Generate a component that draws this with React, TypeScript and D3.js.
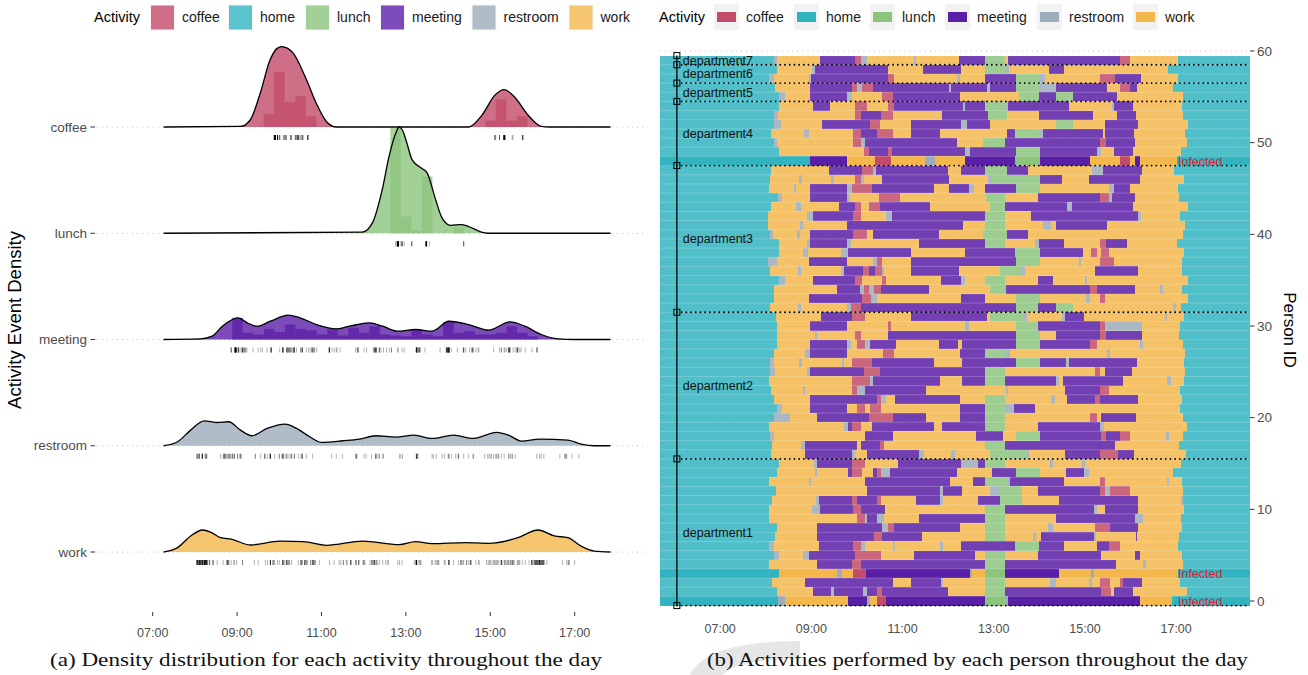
import React from 'react';
import * as d3 from 'd3';

// ---- data ----
const activities = ['coffee', 'home', 'lunch', 'meeting', 'restroom', 'work'];
const activityColors = ['#c24b69', '#31b4c0', '#8cc47c', '#5a1fa7', '#9cacba', '#f3b74c'];
const activityCodes: Record<string, string> = { c: 'coffee', h: 'home', l: 'lunch', m: 'meeting', r: 'restroom', w: 'work' };
const ridgeActivities = ['coffee', 'lunch', 'meeting', 'restroom', 'work'];

const timeTicks = [7, 9, 11, 13, 15, 17];
const timeTickLabels = ['07:00', '09:00', '11:00', '13:00', '15:00', '17:00'];
const personTicks = [0, 10, 20, 30, 40, 50, 60];

const dayStart = 5.68;
const dayEnd = 18.62;
const densityStart = 7.26;
const densityEnd = 17.85;

// scaled density: [hour, height]
const coffeeDensity = [[9.08, 0.005], [9.31, 0.066], [9.55, 0.32], [9.78, 0.63], [9.95, 0.74], [10.06, 0.757], [10.2, 0.74], [10.33, 0.695], [10.65, 0.44], [10.88, 0.22], [11.12, 0.05], [11.35, 0], [14.49, 0], [14.8, 0.11], [15.11, 0.3], [15.33, 0.352], [15.58, 0.28], [15.9, 0.11], [16.21, 0.006], [16.4, 0]];
const lunchDensity = [[11.97, 0.01], [12.21, 0.1], [12.44, 0.41], [12.6, 0.72], [12.77, 0.95], [12.84, 1.0], [12.92, 0.97], [13.0, 0.88], [13.15, 0.69], [13.38, 0.61], [13.5, 0.57], [13.71, 0.31], [13.85, 0.15], [14.06, 0.075], [14.32, 0.082], [14.6, 0.044], [14.79, 0.01], [14.95, 0]];
const meetingDensity = [[8.14, 0.006], [8.41, 0.031], [8.65, 0.125], [9.02, 0.204], [9.24, 0.157], [9.47, 0.125], [9.79, 0.172], [10.21, 0.229], [10.49, 0.204], [10.88, 0.141], [11.35, 0.1], [11.66, 0.125], [12.14, 0.157], [12.45, 0.125], [12.8, 0.078], [13.23, 0.094], [13.62, 0.078], [14.02, 0.172], [14.49, 0.141], [14.96, 0.088], [15.47, 0.166], [15.82, 0.125], [16.21, 0.047], [16.6, 0.006], [16.99, 0]];
const restroomDensity = [[7.59, 0.038], [7.9, 0.147], [8.22, 0.235], [8.53, 0.219], [8.8, 0.226], [9.08, 0.147], [9.35, 0.094], [9.71, 0.163], [10.14, 0.204], [10.41, 0.163], [10.72, 0.085], [11.0, 0.031], [11.51, 0.047], [11.9, 0.063], [12.29, 0.094], [12.76, 0.082], [13.19, 0.1], [13.62, 0.069], [14.13, 0.1], [14.6, 0.069], [15.15, 0.125], [15.43, 0.1], [15.74, 0.044], [16.17, 0.063], [16.84, 0.053], [17.15, 0.016], [17.46, 0]];
const workDensity = [[7.59, 0.041], [7.9, 0.151], [8.18, 0.207], [8.37, 0.188], [8.61, 0.135], [8.88, 0.119], [9.31, 0.066], [10.02, 0.103], [10.57, 0.097], [11.12, 0.063], [11.98, 0.103], [12.84, 0.069], [13.23, 0.097], [13.62, 0.078], [14.41, 0.088], [14.96, 0.082], [15.66, 0.135], [16.13, 0.207], [16.52, 0.151], [16.84, 0.135], [17.15, 0.056], [17.46, 0.009]];

// 15-minute histogram bins: [bin start hour, height]
const binWidth = 0.25;
const coffeeHist = [[9.63, 0.12], [9.88, 0.52], [10.13, 0.235], [10.38, 0.29], [10.63, 0.1], [14.88, 0.06], [15.13, 0.26], [15.38, 0.06], [15.63, 0.1]];
const lunchHist = [[12.63, 0.99], [12.88, 0.157], [13.13, 0.025], [13.38, 0.533], [14.13, 0.056]];
const meetingHist = [[8.885, 0.204], [9.135, 0.063], [9.385, 0.047], [9.635, 0.1], [9.885, 0.07], [10.135, 0.141], [10.385, 0.1], [10.635, 0.088], [10.885, 0.047], [11.135, 0.094], [11.385, 0.038], [11.635, 0.11], [11.885, 0.063], [12.135, 0.125], [12.385, 0.047], [12.635, 0.038], [12.885, 0.031], [13.135, 0.094], [13.385, 0.047], [13.635, 0.031], [13.885, 0.163], [14.135, 0.063], [14.385, 0.078], [14.635, 0.047], [14.885, 0.047], [15.135, 0.063], [15.385, 0.125], [15.635, 0.063], [15.885, 0.031]];

// one schedule per person (id 0..59): activity code + end hour
const personSchedules = [
  'h8.26 r8.43 w9.81 m10.23 r10.29 w10.44 c10.64 m12.81 l13.25 r13.32 m16.20 w16.90',
  'h8.24 w9.03 m9.43 r9.50 m10.14 r10.23 m10.45 c10.55 m11.99 w12.81 l13.25 m15.35 c15.57 w15.64 m16.06 w17.23',
  'h8.13 w8.86 m10.80 w11.18 m11.84 r11.89 w12.81 l13.25 w14.24 r14.37 w15.08 r15.15 w15.33 c15.54 w15.77 c15.83 m16.25 w17.09',
  'h8.28 w9.56 r9.67 w9.91 c10.20 m12.47 r12.52 w12.81 l13.25 m14.44 w15.13 r15.20 w17.05',
  'h8.08 w9.12 m9.89 c10.08 m12.81 l13.25 m15.68 w16.27 r16.34 w17.15',
  'h8.18 r8.30 w8.81 r8.94 m9.96 c10.52 w11.25 m12.59 w12.81 l13.25 w13.96 m15.35 w16.10 m16.20 w17.12',
  'h8.06 r8.17 w9.16 m9.91 c10.08 r10.18 w10.79 r10.84 w11.82 r11.88 w12.28 m13.47 l14.00 m14.54 w15.26 m15.52 c15.76 w17.05',
  'h8.21 w9.12 m10.38 c10.55 m11.42 w12.81 l13.25 w13.86 r13.93 w14.03 m15.19 r15.25 w16.12 m16.15 w17.07',
  'h8.24 w9.13 m10.55 r10.67 c10.82 m12.25 w12.81 l13.25 w14.18 r14.31 w15.22 c15.54 m16.17 w17.12',
  'h8.06 w10.01 c10.18 r10.23 m10.45 r10.60 w11.35 m12.81 l13.25 w14.37 m16.10 r16.27 w17.10',
  'h8.06 w9.01 r9.18 m9.91 c10.08 m10.62 w12.81 l13.25 m15.19 r15.27 w15.44 m16.17 w17.18',
  'h8.13 w9.11 r9.16 m9.89 c10.01 m10.45 c10.52 w11.30 m11.82 r11.88 w12.66 m13.14 l13.62 w14.42 m16.17 w17.10 r17.16',
  'h8.23 w10.23 m11.82 r11.88 m12.30 w12.92 r13.14 l13.62 w13.98 m15.33 c15.44 r15.54 c15.98 w17.15',
  'h8.06 w8.94 r8.99 w10.18 m12.03 w12.54 m12.81 l13.29 r13.35 m14.54 w15.33 c15.44 w16.80 r16.85 w17.12',
  'h8.24 w9.08 r9.13 w9.81 m9.89 c10.11 w10.36 m10.44 c10.52 r10.73 m12.19 w12.96 m13.49 l14.02 w14.59 m14.97 r15.08 w16.94',
  'h8.28 w9.06 r9.12 m9.89 c10.18 w10.89 m12.28 r12.66 m12.81 l13.25 w14.24 r14.30 w14.93 r15.00 w17.10',
  'h8.11 w8.86 m9.89 r9.96 w10.23 m11.35 r11.46 w12.06 r12.15 w12.91 l13.72 r13.78 w14.57 m15.33 c15.73 m16.08 w17.22',
  'h8.13 w8.77 r8.86 m10.00 w10.08 m10.51 c10.60 w12.81 l13.25 m15.66 w17.07',
  'h8.10 r8.17 w10.18 m10.80 w12.61 m13.20 w13.49 l14.02 m15.35 c15.47 m15.77 c15.99 w16.78 r16.85 w17.15',
  'h8.06 w9.72 r9.81 m9.89 c10.08 w10.33 m11.69 w11.86 m12.81 l13.25 w13.98 m15.33 r15.41 w17.23',
  'h8.18 r8.53 w9.13 m10.27 c10.79 m11.52 w12.25 m12.81 l13.25 w15.11 c15.27 w15.35 m16.12 w17.15',
  'h8.24 r8.35 w8.97 m9.79 w10.01 c10.18 w10.29 c10.52 w12.25 m12.81 l13.25 r13.45 m13.91 w17.09',
  'h8.18 w8.97 m10.44 c10.52 r10.64 w10.84 m12.25 w12.81 l13.25 w14.25 r14.35 w14.60 m15.22 c15.33 m16.17 w17.12',
  'h8.11 w8.81 r8.86 w9.89 c10.00 r10.18 m11.52 w13.27 r13.32 w14.57 m15.33 c15.52 w17.09',
  'h8.06 w9.89 c10.29 r10.36 m11.82 w12.30 m12.81 l13.25 m14.37 r14.44 w14.51 m15.83 w16.81 r16.88 w17.18',
  'h8.10 r8.21 w8.90 r8.96 m10.16 c10.51 m12.81 l13.25 w15.22 c15.33 w15.44 m16.03 w17.20',
  'h8.10 r8.18 w8.72 r8.79 w9.67 r9.72 w9.89 c10.33 m11.69 w12.30 m13.49 l14.02 m14.59 r14.66 m16.14 w17.18',
  'h8.18 w8.86 r8.97 m9.79 w10.57 c10.82 w12.26 m12.81 l13.25 r13.36 w15.48 r15.54 w17.20',
  'h8.24 w8.97 m9.79 r9.86 w10.01 c10.18 r10.29 m10.86 w11.81 m12.21 w12.30 m13.49 l14.02 m15.11 c15.27 w16.21 r16.28 w17.16',
  'h8.24 w9.08 r9.13 w9.96 c10.08 w10.69 m13.49 l14.02 w14.37 m15.33 c15.46 m16.25 w17.07',
  'h8.24 w8.97 m9.79 w10.69 c10.75 w12.37 r12.45 w13.49 l13.98 m15.33 c15.44 r16.25 w17.09',
  'h8.23 w9.21 m9.89 c10.18 w11.19 m12.85 w12.91 l13.65 r13.72 w14.49 r14.57 m14.98 w16.76 r16.81 w17.18',
  'h8.10 w8.70 r8.77 w9.79 r9.87 c10.09 m13.49 l13.96 m14.37 l14.73 w16.94 r17.00 w17.10',
  'h8.17 w8.94 m10.11 c10.30 r10.45 w12.28 m12.81 w13.49 l14.02 w15.03 r15.11 w15.33 c15.44 w17.27',
  'h8.17 w9.56 m10.06 r10.16 c10.27 r10.38 c10.52 m11.59 w12.91 l13.27 m15.11 c15.27 m16.10 w16.65 r16.71 w17.12',
  'h8.28 r8.43 w9.03 m9.96 c10.11 w10.55 c10.64 w11.85 m12.29 r12.37 w12.81 l13.25 w13.96 m14.31 w15.00 r15.04 w17.27',
  'h8.10 w8.70 r8.77 w9.65 r9.71 m10.14 c10.27 m10.40 c10.55 r10.60 w11.18 m12.23 w13.14 l13.62 r13.69 w15.22 m16.17 w17.12',
  'h8.04 r8.24 w8.94 m9.79 w10.36 r10.43 c10.55 w11.19 m13.49 l14.02 w14.86 r14.91 w15.33 c15.64 w17.12',
  'h8.28 w8.81 r8.92 w9.65 r9.81 m11.19 w12.37 m13.47 l14.02 m14.95 w15.13 c15.27 w15.35 c15.52 w17.18',
  'h8.28 w8.90 r8.96 m9.79 r9.87 w11.37 m12.81 l13.25 w13.91 r14.00 m14.53 w15.33 c15.46 m15.92 w17.01',
  'h8.10 r8.16 w8.68 r8.75 w8.97 m9.91 c10.23 w10.35 m11.81 w12.76 l13.29 m13.76 w17.15',
  'h8.04 w8.75 r8.81 w9.79 m12.32 w12.81 l13.25 w14.08 r14.25 w14.37 m15.48 w17.20',
  'h8.04 w8.90 r9.03 m9.91 c10.08 w10.64 r10.77 m12.81 l13.25 w13.81 m16.17 r16.23 w17.09',
  'h8.12 w8.67 r8.77 w9.60 m9.96 c10.08 w10.27 c10.51 m11.61 w12.91 l13.25 m14.60 r14.71 m16.06 w17.27',
  'h8.26 r8.35 w8.97 m9.78 r9.84 w10.49 c10.95 w12.83 l13.25 w13.98 m15.33 c15.52 r15.59 m16.10 w17.07',
  'h8.08 w8.61 r8.67 w8.97 m9.79 r9.89 c10.33 m11.69 w12.01 m12.45 r12.56 w12.81 m13.49 l14.02 w15.52 r15.64 m15.99 w17.05',
  'h8.10 w8.72 r8.79 w9.43 r9.50 w9.96 c10.09 r10.16 w10.55 m12.01 w12.88 r12.96 l14.02 m14.49 w15.08 m16.20 w17.18',
  'h8.12 w9.38 m10.11 c10.36 r10.41 m11.99 w12.28 m12.81 l13.29 m13.76 w15.15 r15.39 m16.25 w16.96',
  'h8.97 m9.79 w10.40 c10.74 w11.50 r11.71 w12.37 m13.47 l14.02 m15.11 w15.77 c15.98 w16.10 m16.21 w17.01',
  'h8.28 w10.16 c10.27 m10.67 c10.77 m12.37 r12.47 m13.49 l14.02 m15.26 r15.35 w15.64 m16.06 w17.10',
  'h8.18 r8.24 w9.91 c10.09 r10.18 m12.19 w12.77 l13.25 m15.33 c15.46 m16.10 w17.23',
  'h8.12 w8.84 r8.94 w9.91 c10.09 m10.45 c10.79 w11.19 m11.82 w13.29 m13.47 l14.00 r14.08 m15.39 w15.44 m16.08 w17.20',
  'h8.18 r8.34 w9.23 m10.28 c10.51 w11.19 m12.29 r12.41 m12.91 w14.37 l14.73 w15.44 m16.17 w17.27',
  'h8.17 r8.26 w9.96 c10.09 m10.53 c10.79 w11.86 m12.88 l13.29 w14.00 m15.17 w15.70 m16.12 w17.15',
  'h8.28 w9.03 m9.41 w9.96 c10.23 w10.68 c10.82 m12.32 r12.37 m12.81 l13.26 r13.32 m14.66 w15.59 r15.64 m16.06 w17.12',
  'h8.28 r8.43 w8.97 m9.79 r9.89 w10.55 c10.79 m12.26 w13.56 l14.00 m14.37 l14.73 m15.70 w17.16',
  'h8.21 w8.97 m9.89 c10.00 r10.11 c10.36 m12.01 r12.07 m12.85 r12.91 m13.49 l14.02 r14.36 m15.49 w15.77 c15.99 m16.14 w16.94',
  'h8.06 r8.17 w8.94 r8.99 m10.67 c10.82 w12.19 r12.25 w12.81 m13.49 l14.02 r14.13 w15.33 c15.66 m16.23 w17.05',
  'h8.24 w9.01 r9.07 m10.67 w11.44 m12.29 w12.81 l13.26 r13.34 w14.22 m14.54 w16.83',
  'h8.17 r8.24 w9.19 m9.96 c10.09 r10.23 w11.24 r11.30 w12.23 m12.81 l13.25 w13.32 m15.76 c15.99 w17.05',
];
const infectedPersons = [0, 3, 48];
const departments = ['department1', 'department2', 'department3', 'department4', 'department5', 'department6', 'department7'];
const departmentBounds = [-0.5, 15.5, 31.5, 47.5, 54.5, 56.5, 58.5, 59.5];
const departmentLineTime = 6.05;
const infectedLabelTime = 17.04;

// ---- helpers ----
const color = d3.scaleOrdinal<string, string>(activities, activityColors);
const densities: Record<string, number[][]> = { coffee: coffeeDensity, lunch: lunchDensity, meeting: meetingDensity, restroom: restroomDensity, work: workDensity };
const histograms: Record<string, number[][]> = { coffee: coffeeHist, lunch: lunchHist, meeting: meetingHist, restroom: [], work: [] };

type Seg = { act: string; start: number; end: number };
function parseSchedule(s: string): Seg[] {
  const segs: Seg[] = [];
  let start = dayStart;
  s.split(' ').forEach(tok => {
    const end = +tok.slice(1);
    segs.push({ act: activityCodes[tok[0]], start, end });
    start = end;
  });
  segs.push({ act: 'home', start, end: dayEnd });
  return segs;
}
const schedules = personSchedules.map(parseSchedule);

// rug: start time of every non-home event
const rugs: Record<string, number[]> = {};
ridgeActivities.forEach(a => (rugs[a] = []));
schedules.forEach(segs => segs.forEach(s => { if (s.act !== 'home') rugs[s.act].push(s.start); }));

const SANS = '"Liberation Sans", Arial, Helvetica, sans-serif';
const SERIF = '"Liberation Serif", "DejaVu Serif", serif';
const AXIS_TEXT = '#4d4d4d';

const Legend: React.FC<{ keyX: number[]; titleX: number; boxed: boolean }> = ({ keyX, titleX, boxed }) => (
  <g fontFamily={SANS}>
    <text x={titleX} y={22} fontSize={14.5} fill="#000">Activity</text>
    {activities.map((a, i) => (
      <g key={a}>
        {boxed ? (
          <>
            <rect x={keyX[i]} y={4} width={25} height={26} fill="#f2f2f2" />
            <rect x={keyX[i] + 3} y={12} width={19} height={10} fill={color(a)} />
          </>
        ) : (
          <rect x={keyX[i] + 0.5} y={5} width={24} height={25} fill={color(a)} fillOpacity={0.8} stroke="#f4f4f4" strokeWidth={1} />
        )}
        <text x={keyX[i] + 32} y={22} fontSize={14} fill="#1a1a1a">{a}</text>
      </g>
    ))}
  </g>
);

const App: React.FC = () => {
  // left panel: ridgelines
  const xL = d3.scaleLinear().domain([dayStart, dayEnd]).range([97, 643]);
  const yL = d3.scalePoint<string>().domain(ridgeActivities).range([127, 552]);
  const ridgeH = yL.step();

  // right panel: schedules
  const xR = d3.scaleLinear().domain([dayStart, dayEnd]).range([660, 1250]);
  const yR = d3.scaleLinear().domain([0, 60]).range([601, 51]);
  const rowH = yR(0) - yR(1);

  const ridges = ridgeActivities.map(a => {
    const base = yL(a) as number;
    const pts = [[densityStart, 0], ...densities[a], [densityEnd, 0]];
    const line = d3.line<number[]>().x(d => xL(d[0])).y(d => base - d[1] * ridgeH).curve(d3.curveMonotoneX);
    const area = d3.area<number[]>().x(d => xL(d[0])).y0(base).y1(d => base - d[1] * ridgeH).curve(d3.curveMonotoneX);
    return { a, base, line: line(pts) || '', area: area(pts) || '' };
  });

  return (
    <svg width={1308} height={675} viewBox="0 0 1308 675" style={{ position: 'absolute', left: 0, top: 0, background: '#fff' }}>
      <rect width={1308} height={675} fill="#fff" />

      {/* ---------- left panel ---------- */}
      <Legend keyX={[150, 228, 305, 380, 471.5, 568.5]} titleX={94} boxed={false} />
      {ridgeActivities.map(a => (
        <line key={a} x1={97} x2={643} y1={yL(a)} y2={yL(a)} stroke="#bdbdbd" strokeWidth={1.2} strokeDasharray="0.1 5" strokeLinecap="round" />
      ))}
      {ridges.map(r => (
        <g key={r.a}>
          <path d={r.area} fill={color(r.a)} fillOpacity={0.8} />
          {histograms[r.a].map((b, i) => (
            <rect key={i} x={xL(b[0])} width={xL(b[0] + binWidth) - xL(b[0])} y={r.base - b[1] * ridgeH} height={b[1] * ridgeH} fill={color(r.a)} fillOpacity={0.75} />
          ))}
          <path d={r.line} fill="none" stroke="#000" strokeWidth={1.3} />
        </g>
      ))}
      {ridgeActivities.map(a => (
        <g key={a}>
          {rugs[a].map((t, i) => (
            <line key={i} x1={xL(t)} x2={xL(t)} y1={(yL(a) as number) + 8} y2={(yL(a) as number) + 13} stroke="#000" strokeOpacity={0.3} strokeWidth={1} />
          ))}
        </g>
      ))}
      {/* left y axis */}
      {ridgeActivities.map(a => (
        <g key={a} fontFamily={SANS}>
          <line x1={90.5} x2={95} y1={yL(a)} y2={yL(a)} stroke="#333" strokeWidth={1} />
          <text x={87} y={(yL(a) as number) + 4.5} textAnchor="end" fontSize={13.5} fill={AXIS_TEXT}>{a}</text>
        </g>
      ))}
      <text transform="translate(21,320) rotate(-90)" textAnchor="middle" fontFamily={SANS} fontSize={18.5} fill="#000">Activity Event Density</text>
      {/* left x axis */}
      {timeTicks.map((t, i) => (
        <g key={t} fontFamily={SANS}>
          <line x1={xL(t)} x2={xL(t)} y1={612} y2={616} stroke="#333" strokeWidth={1} />
          <text x={xL(t)} y={637} textAnchor="middle" fontSize={12.5} fill={AXIS_TEXT}>{timeTickLabels[i]}</text>
        </g>
      ))}

      {/* ---------- right panel ---------- */}
      <Legend keyX={[714, 794, 870, 945, 1037, 1133]} titleX={659} boxed={true} />
      {personTicks.map(p => (
        <line key={p} x1={660} x2={1250} y1={yR(p)} y2={yR(p)} stroke="#bdbdbd" strokeWidth={1.2} strokeDasharray="0.1 5" strokeLinecap="round" />
      ))}
      {schedules.map((segs, p) => {
        const infected = infectedPersons.includes(p);
        return (
          <g key={p} fillOpacity={infected ? 1 : 0.85} shapeRendering="crispEdges">
            {segs.map((s, j) => (
              <rect key={j} x={xR(s.start)} width={Math.max(0, xR(s.end) - xR(s.start))} y={yR(p + 0.5)} height={rowH} fill={color(s.act)} />
            ))}
          </g>
        );
      })}
      {/* faint row separators */}
      {schedules.map((_, p) => (
        <line key={p} x1={660} x2={1250} y1={yR(p + 0.5)} y2={yR(p + 0.5)} stroke="#fff" strokeOpacity={0.35} strokeWidth={0.6} />
      ))}
      {departmentBounds.slice(0, -1).map(b => (
        <line key={b} x1={xR(departmentLineTime)} x2={1250} y1={yR(b)} y2={yR(b)} stroke="#000" strokeWidth={1.8} strokeDasharray="0.1 4.6" strokeLinecap="round" />
      ))}
      <line x1={xR(departmentLineTime)} x2={xR(departmentLineTime)} y1={yR(departmentBounds[departmentBounds.length - 1])} y2={yR(departmentBounds[0])} stroke="#000" strokeWidth={1.3} />
      {departmentBounds.map(b => (
        <rect key={b} x={xR(departmentLineTime) - 3} y={yR(b) - 3} width={6} height={6} fill="none" stroke="#000" strokeWidth={1} />
      ))}
      {departments.map((d, i) => (
        <text key={d} x={xR(departmentLineTime) + 6} y={yR((departmentBounds[i] + departmentBounds[i + 1]) / 2) + 4.5} fontFamily={SANS} fontSize={12.5} fill="#111">{d}</text>
      ))}
      {infectedPersons.map(p => (
        <text key={p} x={xR(infectedLabelTime)} y={yR(p) + 4.5} fontFamily={SANS} fontSize={12.5} fill="#e8202a">Infected</text>
      ))}
      {/* right y axis */}
      {personTicks.map(p => (
        <g key={p} fontFamily={SANS}>
          <line x1={1250} x2={1254.5} y1={yR(p)} y2={yR(p)} stroke="#333" strokeWidth={1} />
          <text x={1257} y={yR(p) + 4.8} fontSize={13.5} fill={AXIS_TEXT}>{p}</text>
        </g>
      ))}
      <text transform="translate(1284,330) rotate(90)" textAnchor="middle" fontFamily={SANS} fontSize={17} fill="#000">Person ID</text>
      {/* right x axis */}
      {timeTicks.map((t, i) => (
        <text key={t} x={xR(t)} y={633} textAnchor="middle" fontFamily={SANS} fontSize={12.5} fill={AXIS_TEXT}>{timeTickLabels[i]}</text>
      ))}

      {/* watermark and captions */}
      <path d="M 690 675 Q 706 641 800 641 L 800 659 Q 738 659 722 675 Z" fill="#e6e6e6" />
      <text x={326} y={666} textAnchor="middle" fontFamily={SERIF} fontSize={19} textLength={552} lengthAdjust="spacingAndGlyphs" fill="#111">(a) Density distribution for each activity throughout the day</text>
      <text x={977.5} y={666} textAnchor="middle" fontFamily={SERIF} fontSize={19} textLength={541} lengthAdjust="spacingAndGlyphs" fill="#111">(b) Activities performed by each person throughout the day</text>
    </svg>
  );
};

export default App;
